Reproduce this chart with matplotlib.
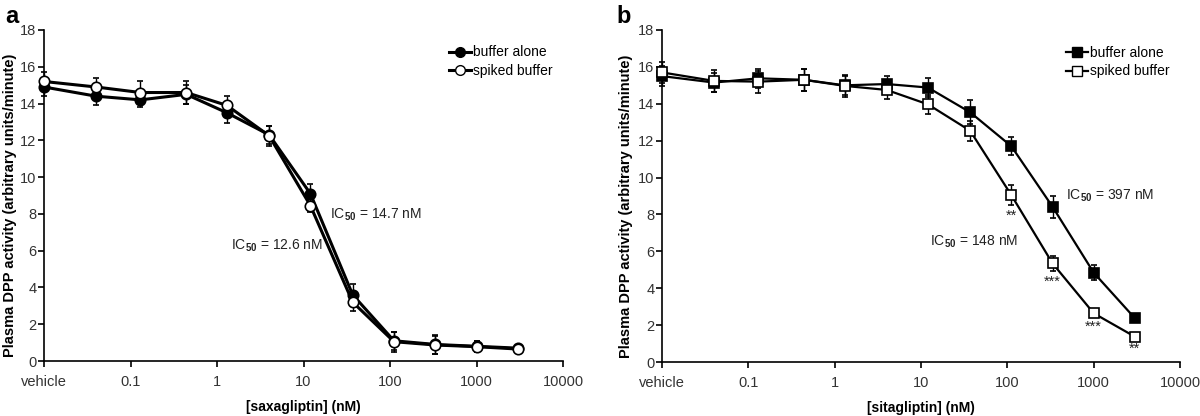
import matplotlib.pyplot as plt
from matplotlib.lines import Line2D

plt.rcParams["font.family"] = ["Liberation Sans", "DejaVu Sans"]
plt.rcParams["mathtext.fontset"] = "custom"
plt.rcParams["mathtext.rm"] = "Liberation Sans"
plt.rcParams["mathtext.bf"] = "Liberation Sans:bold"

# x positions: "vehicle" is drawn at 0.01 on the log axis
conc = [0.01, 0.04, 0.13, 0.44, 1.3, 4, 12, 37, 111, 333, 1000, 3000]
xticks = [0.01, 0.1, 1, 10, 100, 1000, 10000]
xticklabels = ["vehicle", "0.1", "1", "10", "100", "1000", "10000"]

# panel a - saxagliptin
saxa_alone = [14.9, 14.4, 14.2, 14.5, 13.5, 12.3, 9.1, 3.6, 1.1, 0.9, 0.8, 0.7]
saxa_alone_err = [0.5, 0.5, 0.4, 0.5, 0.55, 0.5, 0.5, 0.6, 0.5, 0.5, 0.3, 0.1]
saxa_spiked = [15.2, 14.9, 14.6, 14.6, 13.9, 12.25, 8.45, 3.2, 1.05, 0.87, 0.78, 0.65]
saxa_spiked_err = [0.5, 0.5, 0.6, 0.6, 0.5, 0.55, 0.35, 0.5, 0.55, 0.5, 0.3, 0.1]

# panel b - sitagliptin
sita_alone = [15.5, 15.15, 15.38, 15.3, 15.0, 15.07, 14.88, 13.54, 11.7, 8.42, 4.84, 2.37]
sita_alone_err = [0.55, 0.5, 0.5, 0.6, 0.5, 0.45, 0.5, 0.65, 0.5, 0.6, 0.4, 0.1]
sita_spiked = [15.7, 15.24, 15.2, 15.3, 14.97, 14.75, 13.97, 12.54, 9.05, 5.35, 2.64, 1.37]
sita_spiked_err = [0.55, 0.6, 0.6, 0.6, 0.6, 0.5, 0.5, 0.55, 0.55, 0.4, 0.15, 0.1]
sita_stars = ["", "", "", "", "", "", "", "", "**", "***", "***", "**"]

fig = plt.figure(figsize=(12, 4.16), dpi=100)
ax_a = fig.add_axes([0.0367, 0.1322, 0.4325, 0.7957])
ax_b = fig.add_axes([0.5517, 0.1298, 0.4317, 0.7981])


def style_axis(ax, xlabel, label_x):
    ax.set_xscale("log")
    ax.set_xlim(0.01, 10000)
    ax.set_ylim(0, 18)
    ax.set_yticks(range(0, 19, 2))
    ax.set_xticks(xticks)
    ax.set_xticklabels(xticklabels)
    ax.minorticks_off()
    for s in ["top", "right"]:
        ax.spines[s].set_visible(False)
    for s in ["left", "bottom"]:
        ax.spines[s].set_linewidth(1.2)
    ax.tick_params(direction="out", length=4, width=1.2, labelsize=10.5,
                   labelcolor="#333333")
    ax.tick_params(axis="y", pad=1.5)
    ax.tick_params(axis="x", pad=6)
    ax.set_xlabel(xlabel, fontsize=10, fontweight="bold", labelpad=8)
    ax.set_ylabel("Plasma DPP activity (arbitrary units/minute)", fontsize=10.5,
                  fontweight="bold")
    ax.yaxis.set_label_coords(label_x, 0.47)


def draw_series(ax, y, yerr, marker, face, lw):
    ax.errorbar(conc, y, yerr=yerr, color="black", marker=marker, markersize=7.5,
                markerfacecolor=face, markeredgecolor="black", markeredgewidth=1.2,
                linewidth=lw, elinewidth=1, capsize=2.5, capthick=1,
                clip_on=False, zorder=3)


def add_legend(ax, marker, lw):
    handles = [
        Line2D([], [], color="black", lw=lw, marker=marker, markersize=7,
               markerfacecolor=face, markeredgecolor="black")
        for face in ["black", "white"]
    ]
    ax.legend(handles, ["buffer alone", "spiked buffer"], loc="upper right",
              bbox_to_anchor=(0.99, 0.97), frameon=False, fontsize=10,
              handlelength=1.6, handletextpad=0.1, labelspacing=0.35,
              borderaxespad=0)


ic_a1 = r"IC$_{\mathbf{50}}$ = 14.7 nM"
ic_a2 = r"IC$_{\mathbf{50}}$ = 12.6 nM"
ic_b1 = r"IC$_{\mathbf{50}}$ = 397 nM"
ic_b2 = r"IC$_{\mathbf{50}}$ = 148 nM"

draw_series(ax_a, saxa_alone, saxa_alone_err, "o", "black", 2.2)
draw_series(ax_a, saxa_spiked, saxa_spiked_err, "o", "white", 2.2)
style_axis(ax_a, "[saxagliptin] (nM)", -0.052)
add_legend(ax_a, "o", 2.2)
ax_a.text(20, 7.95, ic_a1, fontsize=10, color="#222222", va="center")
ax_a.text(1.45, 6.27, ic_a2, fontsize=10, color="#222222", va="center")

draw_series(ax_b, sita_alone, sita_alone_err, "s", "black", 1.6)
draw_series(ax_b, sita_spiked, sita_spiked_err, "s", "white", 1.6)
style_axis(ax_b, "[sitagliptin] (nM)", -0.057)
add_legend(ax_b, "s", 1.6)
ax_b.text(480, 9.0, ic_b1, fontsize=10, color="#222222", va="center")
ax_b.text(12.7, 6.5, ic_b2, fontsize=10, color="#222222", va="center")
for x, y, e, s in zip(conc, sita_spiked, sita_spiked_err, sita_stars):
    if s:
        ax_b.text(x, y - e - 0.2, s, ha="center", va="top", fontsize=10.5,
                  color="#222222")

fig.text(0.004, 0.945, "a", fontsize=17, fontweight="bold")
fig.text(0.514, 0.945, "b", fontsize=17, fontweight="bold")

fig.savefig("out.png", dpi=100)
